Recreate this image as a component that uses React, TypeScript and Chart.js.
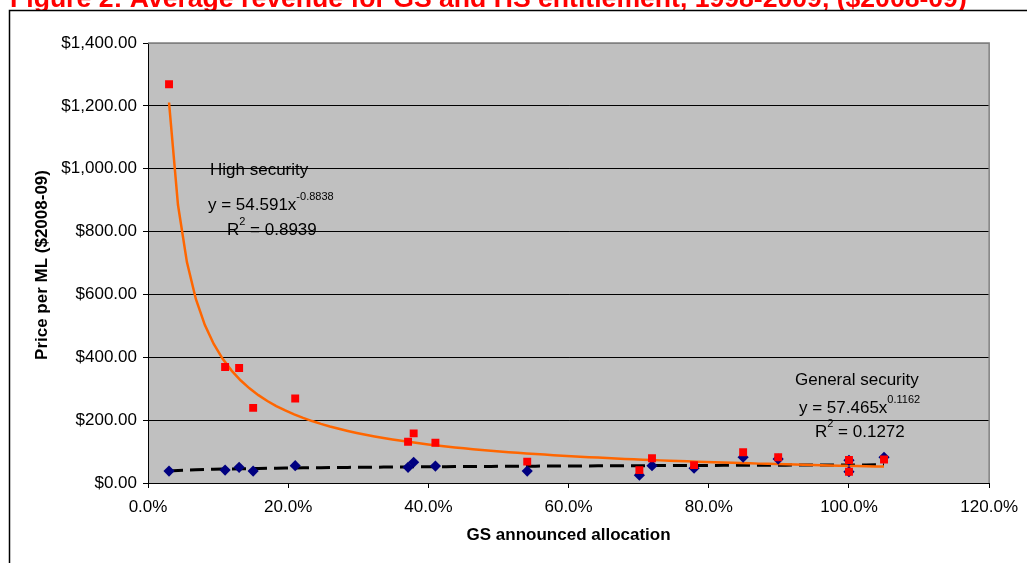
import React, { useEffect, useRef } from "react";
import { Chart, registerables } from "chart.js";

Chart.register(...registerables);

const TITLE = "Figure 2: Average revenue for GS and HS entitlement, 1998-2009, ($2008-09)";
const X_TITLE = "GS announced allocation";
const Y_TITLE = "Price per ML ($2008-09)";

// GS announced allocation (fraction)
const ALLOCATION = [0.03, 0.11, 0.13, 0.15, 0.21, 0.371, 0.379, 0.41, 0.541, 0.701, 0.719, 0.779, 0.849, 0.899, 1.0, 1.0, 1.05];
// High security price per ML
const HS_PRICE = [1269, 369, 366, 239, 269, 131, 158, 128, 68, 41, 79, 57, 98, 82, 73, 36, 75];
// General security price per ML
const GS_PRICE = [38, 41, 50, 38, 55, 50, 66, 54, 38, 25, 55, 47, 82, 76, 72, 36, 82];

// Power trendlines as printed on the chart
const HS_COEF = 54.591;
const HS_EXP = -0.8838;
const GS_COEF = 57.465;
const GS_EXP = 0.1162;

const X_TICK_LABELS = ["0.0%", "20.0%", "40.0%", "60.0%", "80.0%", "100.0%", "120.0%"];
const Y_TICK_LABELS = ["$0.00", "$200.00", "$400.00", "$600.00", "$800.00", "$1,000.00", "$1,200.00", "$1,400.00"];

const HS_LABEL = "High security";
const HS_EQ = "y = 54.591x";
const HS_EQ_SUP = "-0.8838";
const HS_R2 = " = 0.8939";
const GS_LABEL = "General security";
const GS_EQ = "y = 57.465x";
const GS_EQ_SUP = "0.1162";
const GS_R2 = " = 0.1272";

const FONT = '"Liberation Sans", Arial, sans-serif';

function trend(coef: number, exp: number) {
  const lo = Math.min(...ALLOCATION);
  const hi = Math.max(...ALLOCATION);
  const n = 80;
  const pts: { x: number; y: number }[] = [];
  for (let i = 0; i <= n; i++) {
    const x = lo + ((hi - lo) * i) / n;
    pts.push({ x, y: coef * Math.pow(x, exp) });
  }
  return pts;
}

function drawSupLine(ctx: CanvasRenderingContext2D, x: number, y: number, main: string, sup: string, rest: string) {
  ctx.font = `17px ${FONT}`;
  ctx.textAlign = "left";
  ctx.textBaseline = "middle";
  ctx.fillText(main, x, y);
  let cx = x + ctx.measureText(main).width;
  ctx.font = `11px ${FONT}`;
  ctx.fillText(sup, cx, y - 8);
  cx += ctx.measureText(sup).width;
  if (rest) {
    ctx.font = `17px ${FONT}`;
    ctx.fillText(rest, cx, y);
  }
}

const decor = {
  id: "decor",
  beforeDraw(chart: any) {
    const { ctx, chartArea: a, width, height } = chart;
    ctx.save();
    ctx.fillStyle = "#fff";
    ctx.fillRect(0, 0, width, height);
    // title (clipped by page top and chart frame)
    ctx.fillStyle = "#FF0000";
    ctx.font = `bold 20px ${FONT}`;
    const w20 = ctx.measureText(TITLE).width;
    const size = (20 * 957) / w20;
    ctx.font = `bold ${size}px ${FONT}`;
    ctx.textAlign = "left";
    ctx.textBaseline = "alphabetic";
    ctx.fillText(TITLE, 10, 7);
    ctx.fillStyle = "#fff";
    ctx.fillRect(9, 10, width, height);
    // chart frame
    ctx.strokeStyle = "#000";
    ctx.lineWidth = 1.5;
    ctx.beginPath();
    ctx.moveTo(9.5, height);
    ctx.lineTo(9.5, 10.5);
    ctx.lineTo(width, 10.5);
    ctx.stroke();
    // plot area
    ctx.fillStyle = "#C0C0C0";
    ctx.fillRect(a.left, a.top, a.right - a.left, a.bottom - a.top);
    ctx.restore();
  },
  beforeDatasetsDraw(chart: any) {
    const { ctx, chartArea: a } = chart;
    ctx.save();
    ctx.strokeStyle = "#808080";
    ctx.lineWidth = 1.5;
    ctx.beginPath();
    ctx.moveTo(a.left, a.top);
    ctx.lineTo(a.right, a.top);
    ctx.lineTo(a.right, a.bottom);
    ctx.stroke();
    ctx.restore();
  },
  afterDraw(chart: any) {
    const { ctx, chartArea: a } = chart;
    ctx.save();
    ctx.fillStyle = "#000";
    // axis titles
    ctx.font = `bold 17px ${FONT}`;
    ctx.textAlign = "center";
    ctx.textBaseline = "middle";
    ctx.fillText(X_TITLE, (a.left + a.right) / 2, 535);
    ctx.save();
    ctx.translate(42, (a.top + a.bottom) / 2 + 2);
    ctx.rotate(-Math.PI / 2);
    ctx.fillText(Y_TITLE, 0, 0);
    ctx.restore();
    // annotations
    ctx.font = `17px ${FONT}`;
    ctx.textAlign = "left";
    ctx.fillText(HS_LABEL, 210, 170);
    drawSupLine(ctx, 208, 205, HS_EQ, HS_EQ_SUP, "");
    drawSupLine(ctx, 227, 230, "R", "2", HS_R2);
    ctx.font = `17px ${FONT}`;
    ctx.fillText(GS_LABEL, 795, 380);
    drawSupLine(ctx, 799, 408, GS_EQ, GS_EQ_SUP, "");
    drawSupLine(ctx, 815, 432, "R", "2", GS_R2);
    ctx.restore();
  },
};

export default function App() {
  const ref = useRef<HTMLCanvasElement | null>(null);
  useEffect(() => {
    document.body.style.margin = "0";
    if (!ref.current) return;
    const hsPts = ALLOCATION.map((x, i) => ({ x, y: HS_PRICE[i] }));
    const gsPts = ALLOCATION.map((x, i) => ({ x, y: GS_PRICE[i] }));
    const chart = new Chart(ref.current, {
      type: "scatter",
      data: {
        datasets: [
          {
            label: "High security",
            data: hsPts,
            showLine: false,
            pointStyle: "rect",
            pointRadius: 5.6,
            backgroundColor: "#FF0000",
            borderColor: "#FF0000",
            borderWidth: 0,
          },
          {
            label: "General security",
            data: gsPts,
            showLine: false,
            pointStyle: "rectRot",
            pointRadius: 5.6,
            backgroundColor: "#000080",
            borderColor: "#000080",
            borderWidth: 0,
          },
          {
            label: "HS trend",
            data: trend(HS_COEF, HS_EXP),
            showLine: true,
            pointRadius: 0,
            borderColor: "#FF6600",
            borderWidth: 2.5,
            fill: false,
          },
          {
            label: "GS trend",
            data: trend(GS_COEF, GS_EXP),
            showLine: true,
            pointRadius: 0,
            borderColor: "#000000",
            borderWidth: 3,
            borderDash: [14, 7],
            fill: false,
          },
        ],
      } as any,
      options: {
        animation: false,
        responsive: false,
        devicePixelRatio: 1,
        layout: { padding: { left: 0, top: 43, right: 37, bottom: 0 } },
        plugins: {
          legend: { display: false },
          tooltip: { enabled: false },
          title: { display: false },
        },
        scales: {
          x: {
            type: "linear",
            min: 0,
            max: 1.2,
            afterFit: (s: any) => {
              s.height = 80;
            },
            ticks: {
              stepSize: 0.2,
              autoSkip: false,
              maxRotation: 0,
              color: "#000",
              padding: 9,
              font: { family: FONT, size: 17 },
              callback: (_v: any, i: number) => X_TICK_LABELS[i],
            },
            grid: { drawOnChartArea: false, tickLength: 5, tickColor: "#000" },
            border: { color: "#000", width: 1 },
          },
          y: {
            min: 0,
            max: 1400,
            afterFit: (s: any) => {
              s.width = 148;
            },
            ticks: {
              stepSize: 200,
              color: "#000",
              padding: 6,
              font: { family: FONT, size: 17 },
              callback: (_v: any, i: number) => Y_TICK_LABELS[i],
            },
            grid: {
              color: (c: any) =>
                c.tick && c.tick.value === 1400 ? "#808080" : c.tick && c.tick.value === 0 ? "rgba(0,0,0,0)" : "#000",
              tickLength: 5,
              tickColor: "#000",
            },
            border: { color: "#000", width: 1 },
          },
        } as any,
      },
      plugins: [decor],
    } as any);
    return () => chart.destroy();
  }, []);
  return (
    <div style={{ position: "absolute", left: 0, top: 0, width: 1027, height: 563 }}>
      <canvas ref={ref} width={1027} height={563} style={{ display: "block" }} />
    </div>
  );
}
